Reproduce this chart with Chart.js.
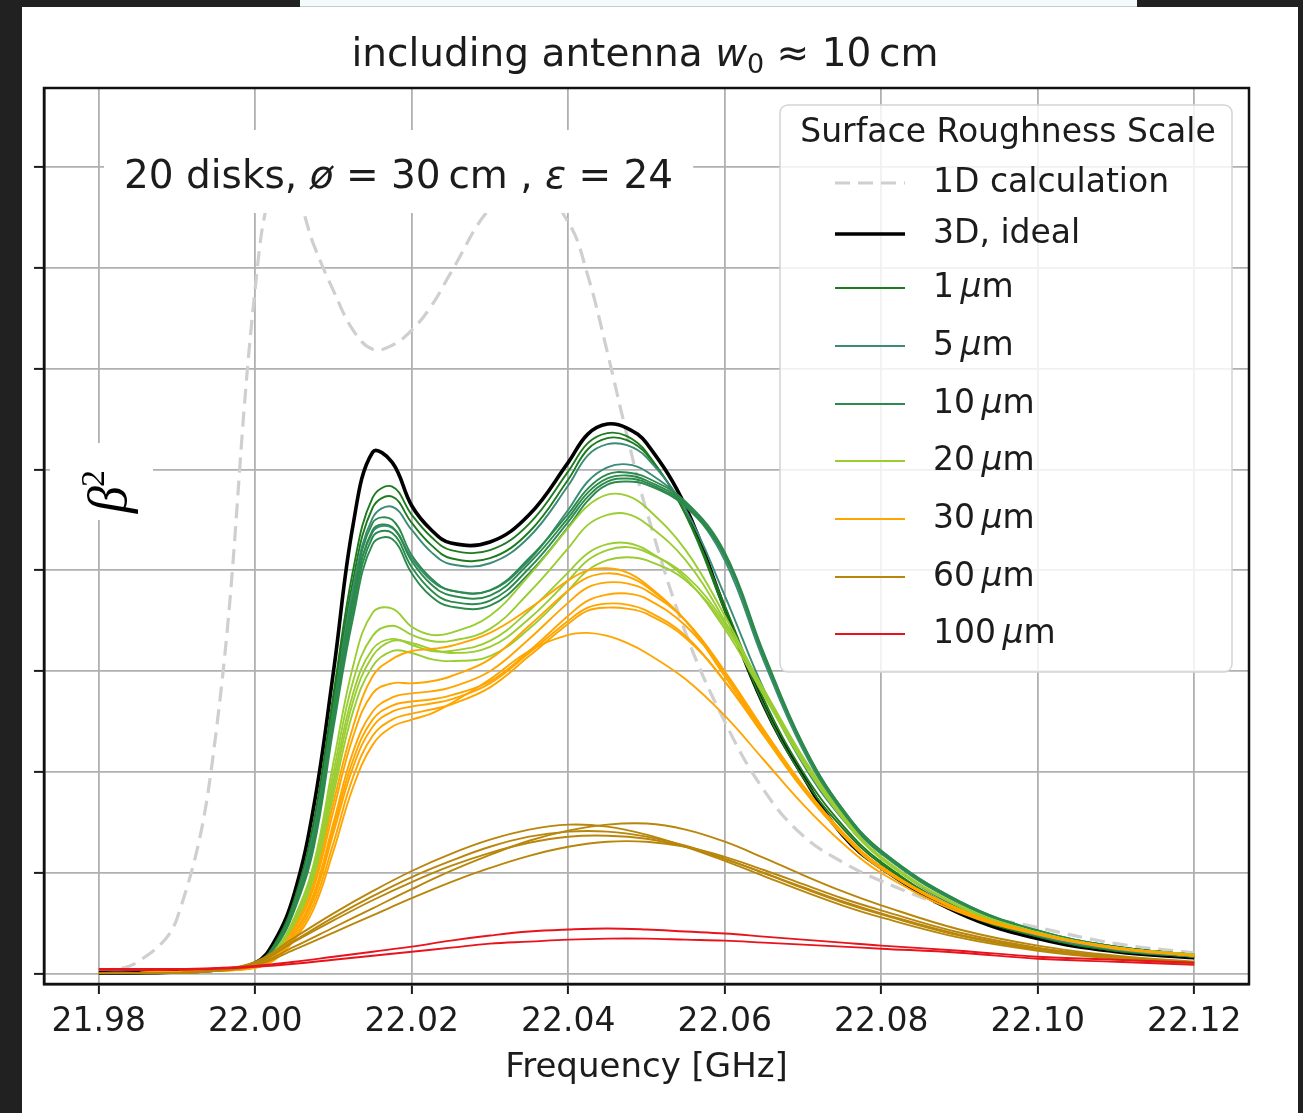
<!DOCTYPE html>
<html>
<head>
<meta charset="utf-8">
<title>Surface roughness scale</title>
<style>
  body { margin: 0; background: #212121; width: 1303px; height: 1113px; overflow: hidden; position: relative; }
  #card { position: absolute; left: 22px; top: 7px; width: 1276px; height: 1106px; background: #fff; }
  #strip { position: absolute; left: 300px; top: 0; width: 837px; height: 6px; background: #f3fafa; border-bottom: 1px solid #c6cccc; }
  #chart { position: absolute; left: 0; top: 0; }
</style>
</head>
<body>
<div id="card"></div>
<div id="strip"></div>
<canvas id="chart" width="1303" height="1113"></canvas>
<script src="https://cdn.jsdelivr.net/npm/chart.js@4.4.0/dist/chart.umd.min.js"></script>
<script>
// frequency grid (GHz) shared by the sharp curves, and a coarser one for the broad ones
const FREQ = [21.98, 21.985, 21.99, 21.995, 22.0, 22.0025, 22.005, 22.0075, 22.01, 22.0125, 22.015, 22.0175,
  22.02, 22.0225, 22.025, 22.03, 22.035, 22.04, 22.0425, 22.045, 22.0475, 22.05, 22.055, 22.06,
  22.065, 22.07, 22.075, 22.08, 22.09, 22.10, 22.11, 22.12];
const FREQ_COARSE = [21.98, 21.99, 21.995, 22.0, 22.005, 22.01, 22.015, 22.02, 22.025, 22.03, 22.035, 22.04,
  22.045, 22.05, 22.055, 22.06, 22.065, 22.07, 22.075, 22.08, 22.09, 22.10, 22.11, 22.12];

const X_TICKS = [21.98, 22.00, 22.02, 22.04, 22.06, 22.08, 22.10, 22.12];
const Y_TICKS = [0, 1, 2, 3, 4, 5, 6, 7, 8];

const calc1D = [0.02, 0.12, 0.55, 2.4, 6.8, 7.85, 7.75, 7.22, 6.77, 6.38, 6.19, 6.23, 6.38, 6.62, 6.95, 7.59,
  7.88, 7.45, 6.92, 6.16, 5.34, 4.59, 3.38, 2.5, 1.82, 1.37, 1.11, 0.92, 0.63, 0.46, 0.3, 0.21];
const ideal3D = [0.01, 0.01, 0.02, 0.04, 0.11, 0.33, 0.8, 1.67, 3.0, 4.45, 5.17, 5.07, 4.64, 4.4, 4.27, 4.28,
  4.55, 5.07, 5.35, 5.45, 5.41, 5.26, 4.63, 3.62, 2.66, 1.96, 1.38, 1.05, 0.6, 0.35, 0.22, 0.16];

const rough1um = [
  [0.01, 0.01, 0.02, 0.04, 0.1, 0.3, 0.74, 1.52, 2.78, 4.0, 4.72, 4.83, 4.55, 4.33, 4.2, 4.2, 4.46, 4.98, 5.26, 5.36, 5.33, 5.17, 4.55, 3.6, 2.66, 1.95, 1.45, 1.09, 0.62, 0.37, 0.23, 0.17],
  [0.01, 0.01, 0.02, 0.04, 0.1, 0.29, 0.72, 1.47, 2.7, 3.9, 4.62, 4.73, 4.47, 4.25, 4.12, 4.12, 4.38, 4.9, 5.2, 5.31, 5.29, 5.15, 4.56, 3.65, 2.72, 2.0, 1.48, 1.11, 0.63, 0.37, 0.23, 0.17]
];
const rough5um = [
  [0.01, 0.01, 0.02, 0.04, 0.1, 0.28, 0.7, 1.43, 2.63, 3.82, 4.52, 4.63, 4.4, 4.18, 4.06, 4.07, 4.33, 4.84, 5.14, 5.25, 5.24, 5.12, 4.6, 3.75, 2.82, 2.08, 1.54, 1.15, 0.65, 0.38, 0.24, 0.17],
  [0.01, 0.01, 0.02, 0.04, 0.1, 0.27, 0.68, 1.38, 2.56, 3.7, 4.38, 4.42, 4.12, 3.9, 3.8, 3.8, 4.1, 4.6, 4.88, 5.02, 5.05, 4.98, 4.66, 4.1, 3.1, 2.22, 1.6, 1.19, 0.7, 0.42, 0.27, 0.19]
];
const rough10um = [
  [0.01, 0.01, 0.02, 0.04, 0.1, 0.28, 0.69, 1.38, 2.62, 3.75, 4.47, 4.5, 4.15, 3.92, 3.8, 3.8, 4.12, 4.56, 4.81, 4.95, 4.97, 4.92, 4.68, 4.18, 3.18, 2.28, 1.64, 1.22, 0.72, 0.43, 0.27, 0.19],
  [0.01, 0.01, 0.02, 0.04, 0.1, 0.27, 0.67, 1.33, 2.55, 3.67, 4.4, 4.43, 4.09, 3.86, 3.75, 3.75, 4.07, 4.52, 4.77, 4.91, 4.94, 4.89, 4.66, 4.16, 3.16, 2.26, 1.63, 1.21, 0.71, 0.42, 0.27, 0.19],
  [0.01, 0.01, 0.02, 0.04, 0.1, 0.26, 0.65, 1.3, 2.5, 3.6, 4.33, 4.37, 4.03, 3.8, 3.69, 3.7, 4.02, 4.48, 4.73, 4.88, 4.91, 4.87, 4.64, 4.14, 3.14, 2.25, 1.62, 1.2, 0.71, 0.42, 0.27, 0.19],
  [0.01, 0.01, 0.02, 0.04, 0.09, 0.25, 0.63, 1.26, 2.44, 3.53, 4.26, 4.31, 3.97, 3.74, 3.64, 3.65, 3.97, 4.43, 4.69, 4.85, 4.88, 4.85, 4.63, 4.14, 3.16, 2.27, 1.64, 1.22, 0.72, 0.43, 0.27, 0.19]
];
const rough20um = [
  [0.01, 0.01, 0.02, 0.04, 0.09, 0.23, 0.56, 1.1, 2.1, 3.05, 3.58, 3.62, 3.44, 3.36, 3.38, 3.55, 3.95, 4.42, 4.64, 4.75, 4.74, 4.62, 4.2, 3.55, 2.8, 2.12, 1.56, 1.15, 0.67, 0.41, 0.26, 0.19],
  [0.01, 0.01, 0.02, 0.04, 0.09, 0.22, 0.54, 1.05, 2.0, 2.9, 3.35, 3.45, 3.36, 3.3, 3.3, 3.42, 3.78, 4.22, 4.45, 4.55, 4.56, 4.46, 4.1, 3.5, 2.78, 2.1, 1.55, 1.15, 0.67, 0.41, 0.26, 0.19],
  [0.01, 0.01, 0.02, 0.04, 0.08, 0.21, 0.52, 1.0, 1.92, 2.78, 3.22, 3.32, 3.26, 3.2, 3.2, 3.3, 3.6, 3.98, 4.17, 4.26, 4.27, 4.2, 3.92, 3.42, 2.76, 2.1, 1.55, 1.14, 0.67, 0.41, 0.26, 0.19],
  [0.01, 0.01, 0.02, 0.04, 0.08, 0.2, 0.5, 0.97, 1.85, 2.7, 3.15, 3.3, 3.28, 3.22, 3.18, 3.24, 3.52, 3.9, 4.1, 4.2, 4.23, 4.18, 3.95, 3.48, 2.82, 2.15, 1.58, 1.16, 0.68, 0.41, 0.26, 0.19],
  [0.01, 0.01, 0.02, 0.04, 0.08, 0.19, 0.48, 0.92, 1.78, 2.6, 3.05, 3.2, 3.18, 3.12, 3.1, 3.15, 3.42, 3.8, 4.0, 4.1, 4.13, 4.1, 3.9, 3.45, 2.8, 2.14, 1.57, 1.15, 0.67, 0.41, 0.26, 0.19]
];
const rough30um = [
  [0.01, 0.01, 0.02, 0.04, 0.08, 0.19, 0.46, 0.9, 1.7, 2.45, 2.95, 3.12, 3.2, 3.22, 3.25, 3.38, 3.62, 3.9, 4.0, 4.02, 3.98, 3.86, 3.5, 2.95, 2.38, 1.83, 1.38, 1.04, 0.63, 0.4, 0.26, 0.18],
  [0.01, 0.01, 0.02, 0.04, 0.08, 0.18, 0.44, 0.86, 1.62, 2.35, 2.78, 2.88, 2.88, 2.9, 2.95, 3.12, 3.45, 3.8, 3.93, 3.97, 3.94, 3.84, 3.5, 2.98, 2.4, 1.85, 1.4, 1.05, 0.63, 0.4, 0.26, 0.18],
  [0.01, 0.01, 0.02, 0.03, 0.07, 0.17, 0.41, 0.8, 1.5, 2.2, 2.6, 2.74, 2.78, 2.8, 2.84, 3.0, 3.32, 3.68, 3.83, 3.88, 3.87, 3.8, 3.5, 3.0, 2.42, 1.87, 1.41, 1.06, 0.64, 0.4, 0.26, 0.18],
  [0.01, 0.01, 0.02, 0.03, 0.07, 0.16, 0.39, 0.75, 1.4, 2.05, 2.45, 2.6, 2.65, 2.68, 2.72, 2.88, 3.18, 3.5, 3.63, 3.67, 3.66, 3.6, 3.35, 2.9, 2.36, 1.83, 1.39, 1.05, 0.63, 0.4, 0.26, 0.18],
  [0.01, 0.01, 0.02, 0.03, 0.06, 0.15, 0.36, 0.7, 1.3, 1.95, 2.36, 2.52, 2.58, 2.62, 2.67, 2.84, 3.15, 3.47, 3.6, 3.63, 3.62, 3.57, 3.33, 2.9, 2.37, 1.84, 1.4, 1.06, 0.64, 0.4, 0.26, 0.18],
  [0.01, 0.01, 0.02, 0.03, 0.06, 0.14, 0.34, 0.65, 1.22, 1.85, 2.27, 2.45, 2.52, 2.58, 2.68, 2.92, 3.2, 3.36, 3.38, 3.35, 3.28, 3.18, 2.92, 2.56, 2.12, 1.68, 1.3, 1.0, 0.61, 0.39, 0.25, 0.18],
  [0.01, 0.01, 0.02, 0.03, 0.07, 0.16, 0.4, 0.78, 1.45, 2.12, 2.52, 2.66, 2.7, 2.72, 2.76, 2.9, 3.2, 3.55, 3.7, 3.76, 3.77, 3.72, 3.45, 2.98, 2.4, 1.86, 1.41, 1.06, 0.64, 0.4, 0.26, 0.18]
];
// these two use FREQ_COARSE
const rough60um = [
  [0.01, 0.01, 0.04, 0.12, 0.36, 0.6, 0.82, 1.02, 1.19, 1.33, 1.43, 1.48, 1.46, 1.38, 1.26, 1.12, 0.97, 0.82, 0.68, 0.56, 0.36, 0.23, 0.15, 0.1],
  [0.01, 0.01, 0.03, 0.09, 0.27, 0.46, 0.65, 0.84, 1.02, 1.18, 1.32, 1.42, 1.48, 1.49, 1.43, 1.31, 1.15, 0.98, 0.82, 0.68, 0.44, 0.28, 0.18, 0.12],
  [0.01, 0.01, 0.03, 0.1, 0.32, 0.53, 0.73, 0.91, 1.07, 1.2, 1.3, 1.36, 1.37, 1.34, 1.26, 1.14, 1.0, 0.86, 0.72, 0.6, 0.39, 0.25, 0.16, 0.11],
  [0.01, 0.01, 0.03, 0.08, 0.24, 0.41, 0.58, 0.75, 0.91, 1.05, 1.17, 1.26, 1.31, 1.31, 1.26, 1.16, 1.03, 0.89, 0.75, 0.63, 0.41, 0.26, 0.17, 0.11],
  [0.01, 0.01, 0.03, 0.1, 0.33, 0.56, 0.77, 0.96, 1.12, 1.26, 1.36, 1.41, 1.41, 1.36, 1.27, 1.14, 1.0, 0.85, 0.71, 0.59, 0.38, 0.24, 0.16, 0.1]
];
const rough100um = [
  [0.05, 0.05, 0.06, 0.08, 0.12, 0.17, 0.22, 0.27, 0.33, 0.38, 0.42, 0.44, 0.45, 0.44, 0.42, 0.4, 0.37, 0.34, 0.31, 0.28, 0.23, 0.17, 0.14, 0.11],
  [0.04, 0.04, 0.05, 0.07, 0.1, 0.14, 0.18, 0.22, 0.26, 0.3, 0.32, 0.34, 0.35, 0.35, 0.34, 0.33, 0.31, 0.29, 0.27, 0.25, 0.21, 0.15, 0.12, 0.09]
];

const SCALE_NAMES = ['1', '5', '10', '20', '30', '60', '100'];
const SCALE_COLORS = ['#1d7a1d', '#3a8c78', '#2c8a4c', '#9acd32', '#ffa500', '#b8860b', '#e8141c'];
const SCALE_CURVES = [rough1um, rough5um, rough10um, rough20um, rough30um, rough60um, rough100um];
const SCALE_X = [FREQ, FREQ, FREQ, FREQ, FREQ, FREQ_COARSE, FREQ_COARSE];

const SANS = "'DejaVu Sans', sans-serif";
const TXT = '#1c1c1c';
const GRID = '#b0b0b0';

const datasets = [];
function addLine(xs, ys, style) {
  datasets.push(Object.assign({
    data: xs.map((x, i) => ({x: x, y: ys[i]})),
    pointRadius: 0,
    fill: false,
    tension: 0.4,
    borderWidth: 1.9
  }, style));
}
addLine(FREQ, calc1D, {borderColor: '#cfcfcf', borderWidth: 3.2, borderDash: [15, 8]});
addLine(FREQ, ideal3D, {borderColor: '#000', borderWidth: 3.6});
SCALE_CURVES.forEach((curves, k) => {
  curves.forEach(c => addLine(SCALE_X[k], c, {borderColor: SCALE_COLORS[k]}));
});
// later curves on top, as in the original plot
datasets.forEach((d, i) => { d.order = datasets.length - i; });

function runsWidth(ctx, runs) {
  let w = 0;
  runs.forEach(r => { ctx.font = r.font; w += ctx.measureText(r.t).width; });
  return w;
}
function drawRuns(ctx, runs, x, y) {
  runs.forEach(r => {
    ctx.font = r.font;
    ctx.fillText(r.t, x, y + (r.dy || 0));
    x += ctx.measureText(r.t).width;
  });
}
function umRuns(n, size) {
  return [
    {t: n + '\u2009', font: size + 'px ' + SANS},
    {t: '\u03bc', font: 'oblique ' + size + 'px ' + SANS},
    {t: 'm', font: size + 'px ' + SANS}
  ];
}

const decor = {
  id: 'decor',
  afterDatasetsDraw(chart) {
    const ctx = chart.ctx;
    ctx.save();
    ctx.fillStyle = TXT;
    ctx.textBaseline = 'alphabetic';

    // title
    const title = [
      {t: 'including antenna ', font: '39px ' + SANS},
      {t: 'w', font: 'oblique 39px ' + SANS},
      {t: '0', font: '27px ' + SANS, dy: 7},
      {t: ' \u2248 10\u2009cm', font: '39px ' + SANS}
    ];
    drawRuns(ctx, title, 645 - runsWidth(ctx, title) / 2, 66);

    // parameters note with white box
    const note = [
      {t: '20 disks, ', font: '39px ' + SANS},
      {t: '\u00f8', font: 'oblique 39px ' + SANS},
      {t: ' = 30\u2009cm , ', font: '39px ' + SANS},
      {t: '\u03b5', font: 'oblique 39px ' + SANS},
      {t: ' = 24', font: '39px ' + SANS}
    ];
    const nw = runsWidth(ctx, note);
    ctx.fillStyle = '#fff';
    ctx.fillRect(104, 130, nw + 40, 83);
    ctx.fillStyle = TXT;
    drawRuns(ctx, note, 124, 188);

    // y label beta^2, rotated, on white box
    ctx.fillStyle = '#fff';
    ctx.fillRect(50, 443, 103, 77);
    ctx.save();
    ctx.translate(126, 513);
    ctx.rotate(-Math.PI / 2);
    ctx.fillStyle = '#000';
    ctx.font = "italic 54px 'Liberation Serif', serif";
    ctx.fillText('\u03b2', 0, 0);
    const bw = ctx.measureText('\u03b2').width;
    ctx.font = "34px 'Liberation Serif', serif";
    ctx.fillText('2', bw - 1, -22);
    ctx.restore();

    // legend
    const bx = 780, by = 105, bwid = 452, bh = 567;
    ctx.beginPath();
    ctx.roundRect(bx, by, bwid, bh, 8);
    ctx.fillStyle = 'rgba(255,255,255,0.82)';
    ctx.fill();
    ctx.strokeStyle = '#d4d4d4';
    ctx.lineWidth = 1.5;
    ctx.stroke();

    ctx.fillStyle = TXT;
    ctx.textBaseline = 'middle';
    ctx.font = '33px ' + SANS;
    ctx.textAlign = 'center';
    ctx.fillText('Surface Roughness Scale', bx + bwid / 2 + 2, by + 28);
    ctx.textAlign = 'left';

    const entries = [
      {runs: [{t: '1D calculation', font: '33px ' + SANS}], color: '#cfcfcf', width: 3.2, dash: [15, 8]},
      {runs: [{t: '3D, ideal', font: '33px ' + SANS}], color: '#000', width: 3.6, dash: []}
    ];
    SCALE_NAMES.forEach((n, k) => entries.push({runs: umRuns(n, 33), color: SCALE_COLORS[k], width: 2.2, dash: []}));
    const rowY = [183, 234, 288, 346, 404, 461, 519, 577, 634];
    entries.forEach((e, i) => {
      const y = rowY[i];
      ctx.beginPath();
      ctx.setLineDash(e.dash);
      ctx.strokeStyle = e.color;
      ctx.lineWidth = e.width;
      ctx.moveTo(835, y);
      ctx.lineTo(905, y);
      ctx.stroke();
      ctx.setLineDash([]);
      drawRuns(ctx, e.runs, 933, y);
    });
    ctx.restore();
  },
  afterDraw(chart) {
    const a = chart.chartArea, ctx = chart.ctx;
    ctx.save();
    ctx.strokeStyle = '#111';
    ctx.lineWidth = 2.5;
    ctx.strokeRect(a.left, a.top, a.right - a.left, a.bottom - a.top);
    ctx.restore();
  }
};

const gridOpts = {color: GRID, lineWidth: 1.8, tickColor: '#1c1c1c', tickLength: 10, tickWidth: 2};

new Chart(document.getElementById('chart'), {
  type: 'line',
  data: {datasets: datasets},
  plugins: [decor],
  options: {
    responsive: false,
    animation: false,
    devicePixelRatio: 1,
    layout: {padding: {left: 34, right: 54, top: 88, bottom: 0}},
    plugins: {legend: {display: false}, tooltip: {enabled: false}, title: {display: false}},
    scales: {
      x: {
        type: 'linear',
        min: 21.973,
        max: 22.127,
        afterBuildTicks: s => { s.ticks = X_TICKS.map(v => ({value: v})); },
        afterFit: s => { s.height = 129; },
        ticks: {
          callback: v => v.toFixed(2),
          font: {family: SANS, size: 33},
          color: TXT,
          padding: 9,
          maxRotation: 0,
          autoSkip: false
        },
        grid: gridOpts,
        border: {color: '#111', width: 2.5},
        title: {
          display: true,
          text: 'Frequency [GHz]',
          font: {family: SANS, size: 34},
          color: TXT,
          padding: {top: 0, bottom: 24}
        }
      },
      y: {
        type: 'linear',
        min: -0.1,
        max: 8.78,
        afterBuildTicks: s => { s.ticks = Y_TICKS.map(v => ({value: v})); },
        afterFit: s => { s.width = 10; },
        ticks: {display: false},
        grid: gridOpts,
        border: {color: '#111', width: 2.5}
      }
    }
  }
});
</script>
</body>
</html>
